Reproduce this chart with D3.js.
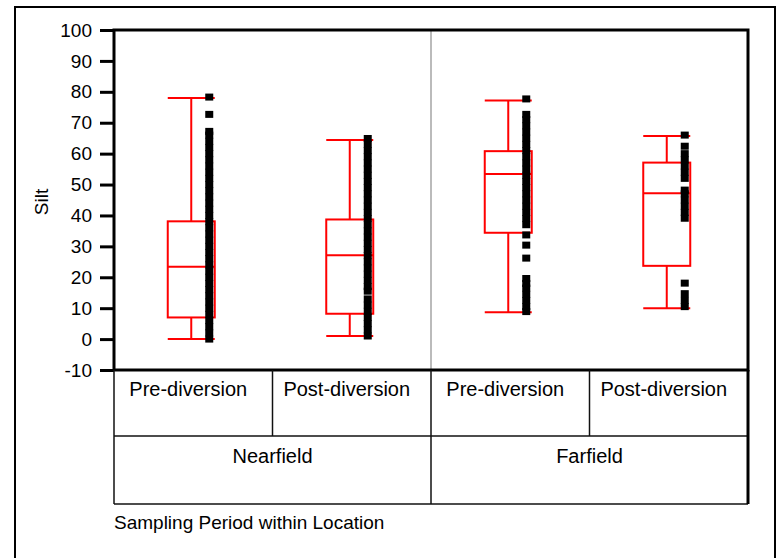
<!DOCTYPE html>
<html lang="en">
<head>
  <meta charset="UTF-8">
  <title>Silt by sampling period</title>
  <script src="https://d3js.org/d3.v7.min.js"></script>
  <style>
    body { margin: 0; background: #fff; }
    text { font-family: "Liberation Sans", Arial, sans-serif; fill: #000; }
  </style>
</head>
<body>
<svg id="chart"></svg>
<script>
// groups (period within location)
const periods = ["Pre-diversion", "Post-diversion", "Pre-diversion", "Post-diversion"];
const locations = ["Nearfield", "Farfield"];
const yTicks = [-10, 0, 10, 20, 30, 40, 50, 60, 70, 80, 90, 100];

// box statistics
const mins    = [0, 1, 8.7, 10];
const q1s     = [7, 8.2, 34.4, 23.7];
const medians = [23.4, 27.1, 53.4, 47.2];
const q3s     = [38.1, 38.7, 60.8, 57.1];
const maxs    = [78, 64.4, 77.2, 65.7];

// raw observations (dense columns beside each box)
const nearPre = [0, 2, 4, 6, 8, 10, 12, 14, 16, 18, 20, 22, 24, 26, 28, 30, 32, 34, 36, 38, 40,
  42, 44, 46, 48, 50, 52, 54, 56, 58, 60, 62, 64, 66, 67.2, 72.7, 78.3];
const nearPost = [1, 3, 5, 7, 9, 11, 13, 15.5, 17, 19, 21, 23, 25, 27, 29, 31, 33, 35, 37, 39, 41,
  43, 45, 47, 49, 51, 53, 55, 57, 59, 61, 63, 64.9];
const farPre = [8.9, 10.5, 12.5, 14.5, 16.5, 18, 19.6, 26.2, 30.4, 33.7, 37, 39, 41, 43, 45, 47,
  49, 51, 53, 55, 57, 59, 61, 63, 65, 67, 69, 71, 72.7, 77.7];
const farPost = [10.5, 12.5, 14.7, 18.1, 39.1, 41, 43, 45, 47, 48.2, 52, 54, 56, 58, 60, 62.4, 66];
const points = [nearPre, nearPost, farPre, farPost];

const W = 776, H = 558;
const pLeft = 114, pRight = 748, pTop = 30, pBottom = 370;
const row1 = 436, row2 = 504;

const svg = d3.select("#chart").attr("width", W).attr("height", H);

// outer frame
svg.append("rect").attr("x", 15).attr("y", 7).attr("width", 760).attr("height", 600)
  .attr("fill", "none").attr("stroke", "#000").attr("stroke-width", 2);

const x = d3.scaleBand().domain(d3.range(periods.length)).range([pLeft, pRight]);
const y = d3.scaleLinear().domain([-10, 100]).range([pBottom, pTop]);

// divider between locations
svg.append("line").attr("x1", x(2)).attr("x2", x(2)).attr("y1", pTop).attr("y2", pBottom)
  .attr("stroke", "#bbb").attr("stroke-width", 2);

// y axis
const yAxis = svg.append("g").attr("transform", `translate(${pLeft},0)`)
  .call(d3.axisLeft(y).tickValues(yTicks).tickFormat(d => String(d)).tickSize(14).tickPadding(8));
yAxis.select(".domain").remove();
yAxis.selectAll(".tick line").attr("stroke", "#000").attr("stroke-width", 3);
yAxis.selectAll(".tick text").attr("font-size", 19).attr("font-family", "Liberation Sans, Arial, sans-serif");

svg.append("text").attr("transform", `translate(48,${(pTop + pBottom) / 2 + 2}) rotate(-90)`)
  .attr("text-anchor", "middle").attr("font-size", 19).text("Silt");

// boxes
const half = 23.5, shift = -2;
const g = svg.append("g");
periods.forEach((p, i) => {
  const cx = x(i) + x.bandwidth() / 2 + shift;
  const red = "#ff0000";
  const box = g.append("g").attr("stroke", red).attr("stroke-width", 2).attr("fill", "none");
  box.append("line").attr("x1", cx).attr("x2", cx).attr("y1", y(maxs[i])).attr("y2", y(q3s[i]));
  box.append("line").attr("x1", cx).attr("x2", cx).attr("y1", y(q1s[i])).attr("y2", y(mins[i]));
  box.append("line").attr("x1", cx - half).attr("x2", cx + half).attr("y1", y(maxs[i])).attr("y2", y(maxs[i]));
  box.append("line").attr("x1", cx - half).attr("x2", cx + half).attr("y1", y(mins[i])).attr("y2", y(mins[i]));
  box.append("rect").attr("x", cx - half).attr("width", half * 2)
    .attr("y", y(q3s[i])).attr("height", y(q1s[i]) - y(q3s[i]));
  box.append("line").attr("x1", cx - half).attr("x2", cx + half).attr("y1", y(medians[i])).attr("y2", y(medians[i]));

  g.append("g").selectAll("rect").data(points[i]).join("rect")
    .attr("x", cx + 18 - 4).attr("y", d => y(d) - 3.5)
    .attr("width", 8).attr("height", 7).attr("fill", "#000");
});

// plot frame
svg.append("rect").attr("x", pLeft).attr("y", pTop).attr("width", pRight - pLeft).attr("height", pBottom - pTop)
  .attr("fill", "none").attr("stroke", "#000").attr("stroke-width", 3);

// category table
const tbl = svg.append("g").attr("stroke", "#111").attr("stroke-width", 1.5);
[row1, row2].forEach(ry => tbl.append("line").attr("x1", pLeft).attr("x2", pRight).attr("y1", ry).attr("y2", ry));
tbl.append("line").attr("x1", pLeft).attr("x2", pLeft).attr("y1", pBottom).attr("y2", row2);
tbl.append("line").attr("x1", x(2)).attr("x2", x(2)).attr("y1", pBottom).attr("y2", row2);
[1, 3].forEach(i => tbl.append("line").attr("x1", x(i)).attr("x2", x(i)).attr("y1", pBottom).attr("y2", row1));
svg.append("line").attr("x1", pRight).attr("x2", pRight).attr("y1", pBottom).attr("y2", row2)
  .attr("stroke", "#000").attr("stroke-width", 3);

periods.forEach((p, i) => {
  svg.append("text").attr("x", x(i) + x.bandwidth() / 2 - 5).attr("y", 396)
    .attr("text-anchor", "middle").attr("font-size", 20).text(p);
});
locations.forEach((l, j) => {
  svg.append("text").attr("x", x(j * 2 + 1)).attr("y", 463)
    .attr("text-anchor", "middle").attr("font-size", 20).text(l);
});

svg.append("text").attr("x", pLeft).attr("y", 529).attr("font-size", 19)
  .text("Sampling Period within Location");
</script>
</body>
</html>
